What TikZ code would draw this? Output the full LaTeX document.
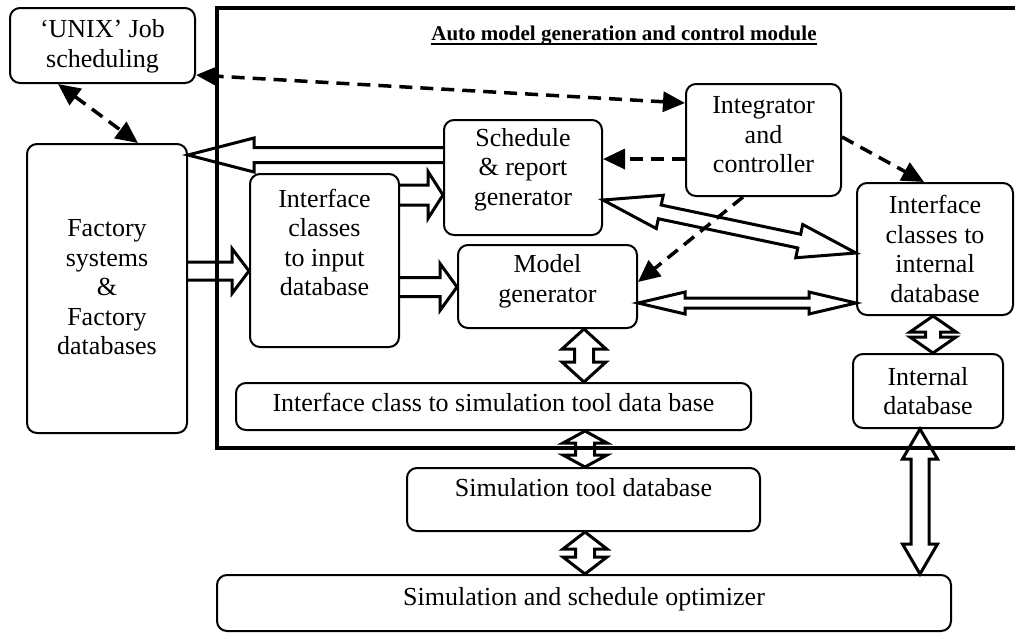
\documentclass[tikz,border=0pt]{standalone}
\usepackage{fontspec}
\setmainfont{Liberation Serif}
\usetikzlibrary{arrows.meta,calc}

\tikzstyle{box}=[draw, line width=2pt, rounded corners=10pt, inner sep=0pt]
\tikzstyle{txt}=[align=center, font=\fontsize{26}{29.5}\selectfont, inner sep=0pt]
\tikzstyle{fat}=[draw, line width=3pt, line join=miter]
\tikzstyle{ctrl}=[line width=3.5pt, dash pattern=on 13pt off 8pt]
\tikzset{>={Triangle[length=22pt,width=20pt]}}

% box with its text shifted up by #6
\newcommand{\blk}[7]{
	\node[box, minimum width=#4pt, minimum height=#5pt,
		label={[txt, yshift=#6pt]center:#7}] (#1) at (#2,#3) {};
}
% hollow arrow from #1 to #2, shaft half #3, head half #4, head length #5
\newcommand{\fatarrow}[5]{
	\draw[fat]
	($(#1)!#3!90:(#2)$) --
	($(#2)!#5!(#1)!#3!-90:(#1)$) --
	($(#2)!#5!(#1)!#4!-90:(#1)$) --
	(#2) --
	($(#2)!#5!(#1)!#4!90:(#1)$) --
	($(#2)!#5!(#1)!#3!90:(#1)$) --
	($(#1)!#3!-90:(#2)$);
}
% hollow arrow with a head at both ends
\newcommand{\fatboth}[5]{
	\draw[fat]
	(#1) --
	($(#1)!#5!(#2)!#4!90:(#2)$) --
	($(#1)!#5!(#2)!#3!90:(#2)$) --
	($(#2)!#5!(#1)!#3!-90:(#1)$) --
	($(#2)!#5!(#1)!#4!-90:(#1)$) --
	(#2) --
	($(#2)!#5!(#1)!#4!90:(#1)$) --
	($(#2)!#5!(#1)!#3!90:(#1)$) --
	($(#1)!#5!(#2)!#3!-90:(#2)$) --
	($(#1)!#5!(#2)!#4!-90:(#2)$) -- cycle;
}

\begin{document}
\begin{tikzpicture}[x=1pt, y=-1pt]
\useasboundingbox (0,0) rectangle (1015,633);

% module frame
\draw[line width=4pt] (217,8) rectangle (1030,448);
\node[font=\bfseries\fontsize{21}{24}\selectfont, inner sep=0pt] (title) at (624,36)
	{Auto model generation and control module};
\draw[line width=1.6pt] ($(title.base west)+(0,3)$) -- ($(title.base east)+(0,3)$);

\blk{unix}{102.5}{45.5}{185}{75}{-1}{`UNIX' Job\\scheduling}
\blk{factory}{107}{288.5}{160}{289}{1}{Factory\\systems\\\&\\Factory\\databases}
\blk{input}{324.5}{260.5}{149}{173}{18}{Interface\\classes\\to input\\database}
\blk{sched}{523}{177.5}{158}{115}{8}{Schedule\\\& report\\generator}
\blk{integ}{763.5}{140}{155}{112}{5}{Integrator\\and\\controller}
\blk{iint}{935}{249}{156}{132}{0}{Interface\\classes to\\internal\\database}
\blk{model}{547.5}{286.5}{179}{83}{5}{Model\\generator}
\blk{isim}{493.5}{406.5}{515}{47}{4}{Interface class to simulation tool data base}
\blk{idb}{928}{391}{150}{74}{0}{Internal\\database}
\blk{sdb}{583.5}{499.5}{353}{63}{12}{Simulation tool database}
\blk{opt}{584}{603}{734}{56}{4}{Simulation and schedule optimizer}

% data flow
\fatarrow{sched.west |- 0,155}{factory.east |- 0,155}{7.5pt}{17pt}{66pt}
\fatarrow{factory.east |- 0,271}{input.west |- 0,271}{9pt}{22.5pt}{17pt}
\fatarrow{input.east |- 0,195}{sched.west |- 0,195}{10pt}{23.5pt}{15pt}
\fatarrow{input.east |- 0,287}{model.west |- 0,287}{9.5pt}{23.5pt}{17pt}
\fatboth{sched.east |- 0,200}{iint.west |- 0,253}{7pt}{17pt}{58pt}
\fatboth{model.east |- 0,303}{iint.west |- 0,303}{5pt}{11pt}{47pt}
\fatboth{model.south -| 584,0}{isim.north -| 584,0}{9.5pt}{22pt}{20pt}
\fatboth{isim.south -| 585,0}{sdb.north -| 585,0}{9.5pt}{22pt}{12pt}
\fatboth{sdb.south -| 585,0}{opt.north -| 585,0}{9.5pt}{22pt}{17pt}
\fatboth{iint.south -| 933,0}{idb.north -| 933,0}{7.5pt}{23pt}{16pt}
\fatboth{idb.south -| 920,0}{opt.north -| 920,0}{9pt}{17.5pt}{30pt}

% control
\draw[ctrl,<->] (unix.south -| 58,0) -- (factory.north -| 138,0);
\draw[ctrl,<->] (integ.west |- 0,103) -- (unix.east |- 0,75);
\draw[ctrl,->] (integ.west |- 0,159) -- (sched.east |- 0,159);
\draw[ctrl,->] (integ.east |- 0,137) -- (iint.north -| 924,0);
\draw[ctrl,->] (integ.south -| 743,0) -- (model.east |- 0,282);
\end{tikzpicture}
\end{document}
